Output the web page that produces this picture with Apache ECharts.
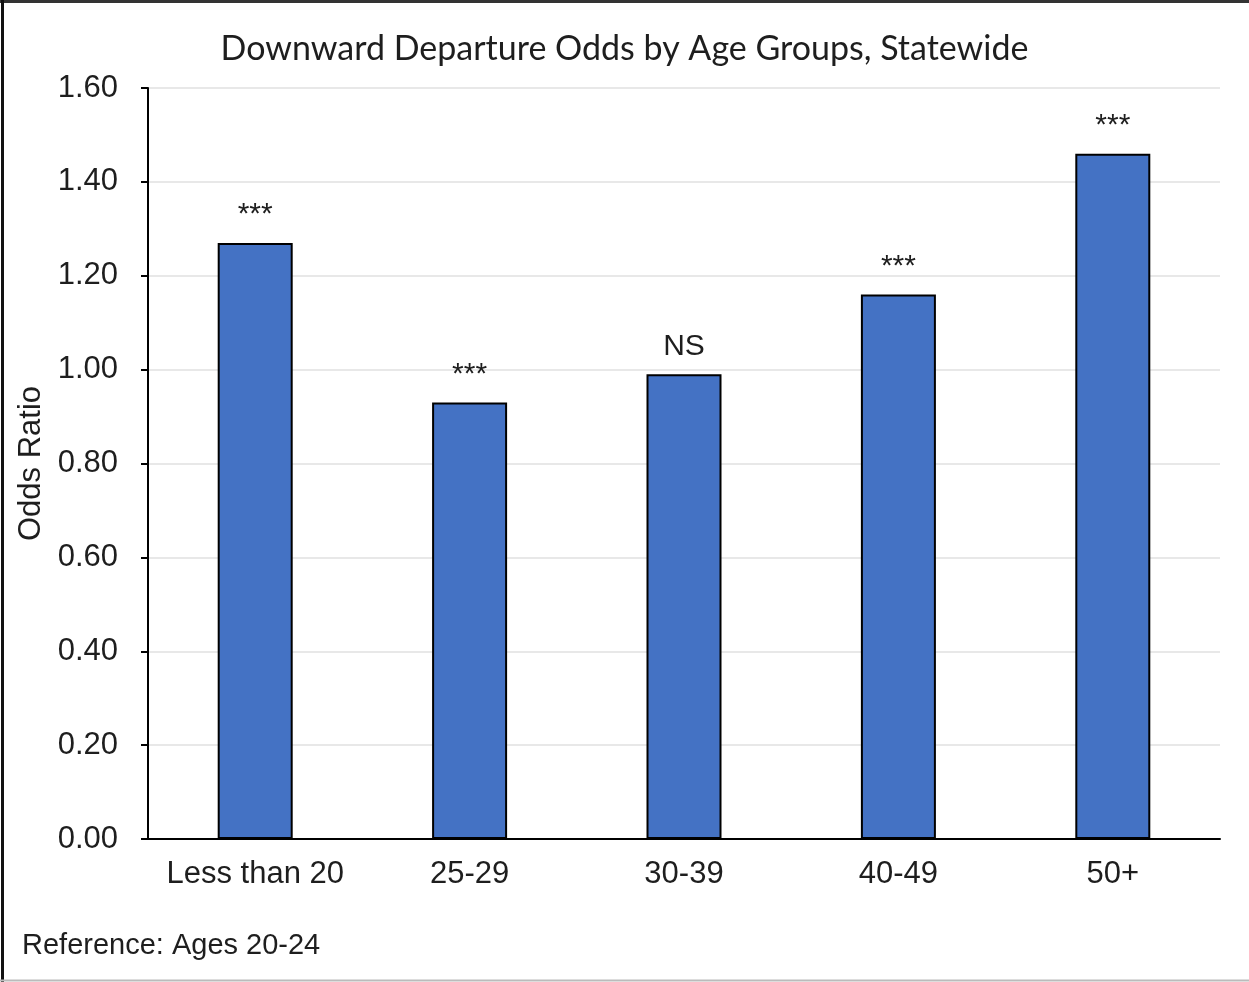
<!DOCTYPE html>
<html>
<head>
<meta charset="utf-8">
<script src="https://cdn.jsdelivr.net/npm/echarts@6/dist/echarts.min.js"></script>
<style>
html,body{margin:0;padding:0;background:#fff;}
#chart{width:1249px;height:982px;}
</style>
</head>
<body>
<div id="chart"></div>
<script>
const categories = ["Less than 20", "25-29", "30-39", "40-49", "50+"];
const oddsRatios = [1.27, 0.93, 0.99, 1.16, 1.46];
const significance = ["***", "***", "NS", "***", "***"];
const yTicks = [0, 0.2, 0.4, 0.6, 0.8, 1.0, 1.2, 1.4, 1.6];

const chart = echarts.init(document.getElementById('chart'), null, {renderer: 'canvas'});
const sans = '"Liberation Sans", Arial, sans-serif';
chart.setOption({
  animation: false,
  backgroundColor: '#fff',
  title: {
    text: 'Downward Departure Odds by Age Groups, Statewide',
    left: 'center',
    top: 27,
    textStyle: {fontFamily: 'Lato, "Open Sans", sans-serif', fontWeight: 'normal', fontSize: 34, color: '#1e1e1e'}
  },
  graphic: [
    {type: 'line', shape: {x1: 0, y1: 1.5, x2: 1249, y2: 1.5}, style: {stroke: '#333', lineWidth: 3}, silent: true, z: 100},
    {type: 'line', shape: {x1: 2.5, y1: 0, x2: 2.5, y2: 982}, style: {stroke: '#111', lineWidth: 3}, silent: true, z: 100},
    {type: 'line', shape: {x1: 0, y1: 980.5, x2: 1249, y2: 980.5}, style: {stroke: '#bbb', lineWidth: 2}, silent: true, z: 100},
    {type: 'text', left: 22, top: 931, style: {text: 'Reference: Ages 20-24', font: '29px "Liberation Sans", Arial, sans-serif', fill: '#1e1e1e'}}
  ],
  grid: {left: 148, right: 29, top: 88, bottom: 143},
  xAxis: {
    type: 'category',
    data: categories,
    axisLine: {lineStyle: {color: '#000', width: 2}},
    axisTick: {show: false},
    axisLabel: {fontFamily: sans, fontSize: 31, color: '#1e1e1e', margin: 20, interval: 0}
  },
  yAxis: {
    type: 'value',
    min: 0, max: 1.6, interval: 0.2,
    name: 'Odds Ratio',
    nameLocation: 'middle',
    nameGap: 98,
    nameTextStyle: {fontFamily: sans, fontSize: 31, color: '#1e1e1e'},
    axisLine: {show: true, lineStyle: {color: '#000', width: 2}},
    axisTick: {show: true, length: 7, lineStyle: {color: '#000', width: 2}},
    axisLabel: {fontFamily: sans, fontSize: 31, color: '#1e1e1e', margin: 30,
      formatter: v => yTicks.includes(Math.round(v*10)/10) ? v.toFixed(2) : ''},
    splitLine: {lineStyle: {color: '#e8e8e8', width: 2}}
  },
  series: [{
    type: 'bar',
    data: oddsRatios,
    barWidth: 75,
    itemStyle: {color: '#4472C4', borderColor: '#000', borderWidth: 2},
    label: {
      show: true, position: 'top', distance: 13,
      fontFamily: sans, fontSize: 30, color: '#1e1e1e',
      formatter: p => significance[p.dataIndex]
    }
  }]
});
</script>
</body>
</html>
